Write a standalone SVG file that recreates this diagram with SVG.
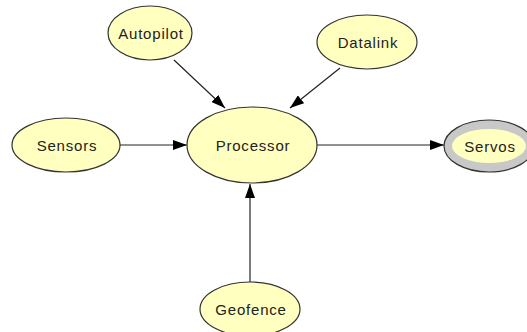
<svg xmlns="http://www.w3.org/2000/svg" width="527" height="332" viewBox="0 0 527 332">
<defs>
<marker id="arr" markerWidth="14" markerHeight="10" refX="14" refY="5" orient="auto" markerUnits="userSpaceOnUse">
<path d="M0,0 L14,5 L0,10 Z" fill="#000"/>
</marker>
<style>
.n ellipse{fill:#ffffc0;stroke:#333;stroke-width:1.2}
.n text{font-family:"Liberation Sans",Arial,sans-serif;font-size:15px;letter-spacing:0.8px;fill:#222;text-anchor:middle;dominant-baseline:central}
.e line{stroke:#222;stroke-width:1.2;marker-end:url(#arr)}
</style>
</defs>
<rect width="527" height="332" fill="#fff"/>
<g class="e" id="edges">
<line x1="174" y1="60" x2="225" y2="108"/>
<line x1="340" y1="68" x2="290" y2="108"/>
<line x1="120" y1="145" x2="187" y2="145"/>
<line x1="317" y1="145" x2="444" y2="145"/>
<line x1="250" y1="282" x2="250" y2="184"/>
</g>
<g class="n" id="autopilot"><ellipse cx="150" cy="33" rx="42" ry="27"/><text x="151" y="33">Autopilot</text></g>
<g class="n" id="datalink"><ellipse cx="367" cy="42" rx="50" ry="27"/><text x="368" y="42">Datalink</text></g>
<g class="n" id="sensors"><ellipse cx="66" cy="145" rx="54" ry="27"/><text x="67" y="145">Sensors</text></g>
<g class="n" id="processor"><ellipse cx="252" cy="145" rx="65" ry="38"/><text x="253" y="145">Processor</text></g>
<g class="n" id="servos"><ellipse cx="489" cy="146" rx="45" ry="26" style="fill:#c8c8c8"/><ellipse cx="489" cy="146" rx="37" ry="17" style="stroke:none"/><text x="490" y="146">Servos</text></g>
<g class="n" id="geofence"><ellipse cx="250" cy="309" rx="50" ry="27"/><text x="251" y="309">Geofence</text></g>
</svg>
